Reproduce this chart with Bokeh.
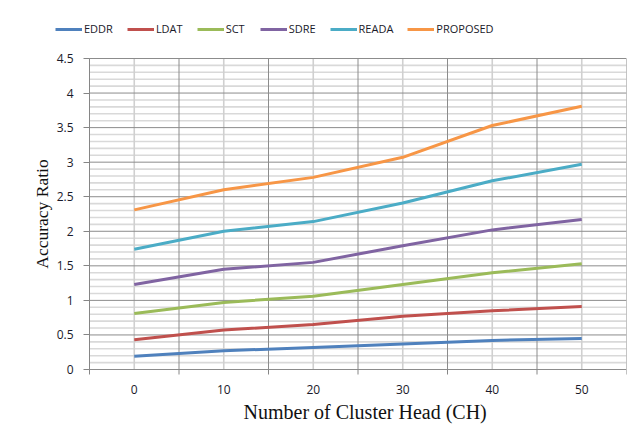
import math
from bokeh.plotting import figure
from bokeh.models import FixedTicker, Legend, LegendItem, Range1d, Label, Title
from bokeh.embed import file_html
from bokeh.resources import INLINE

# ---- data ----
cluster_heads = [0, 10, 20, 30, 40, 50]
x_tick_labels = ["0", "10", "20", "30", "40", "50"]
y_ticks = [0, 0.5, 1, 1.5, 2, 2.5, 3, 3.5, 4, 4.5]
y_tick_labels = ["0", "0.5", "1", "1.5", "2", "2.5", "3", "3.5", "4", "4.5"]

eddr = [0.19, 0.27, 0.32, 0.37, 0.42, 0.45]
ldat = [0.43, 0.57, 0.65, 0.77, 0.85, 0.91]
sct = [0.81, 0.97, 1.06, 1.23, 1.40, 1.53]
sdre = [1.23, 1.45, 1.55, 1.79, 2.02, 2.17]
reada = [1.74, 2.00, 2.14, 2.41, 2.73, 2.97]
proposed = [2.31, 2.60, 2.78, 3.07, 3.53, 3.81]

series_names = ["EDDR", "LDAT", "SCT", "SDRE", "READA", "PROPOSED"]
series_values = [eddr, ldat, sct, sdre, reada, proposed]
series_colors = ["#4F81BD", "#C0504D", "#9BBB59", "#8064A2", "#4BACC6", "#F79646"]

# ---- layout geometry (canvas pixels) ----
W, H = 630, 436
FRAME_L, FRAME_T, FRAME_B = 34, 10, 378   # drawing frame (extended to hold legend, titles, labels)
PLOT_L, PLOT_R, PLOT_T, PLOT_B = 89, 626, 58, 369   # visible plot area
LEGEND_L, LEGEND_BOTTOM = 55, 36
YTITLE_CX = 41
XTITLE_LEFT = 243
TICK_LEN = 5

half = (cluster_heads[1] - cluster_heads[0]) / 2
boundaries = [c - half for c in cluster_heads] + [cluster_heads[-1] + half]
x_lo, x_hi = boundaries[0], boundaries[-1]
y_lo, y_hi = y_ticks[0], y_ticks[-1]
x_per_px = (x_hi - x_lo) / (PLOT_R - PLOT_L)
y_per_px = (y_hi - y_lo) / (PLOT_B - PLOT_T)
x_start = x_lo - (PLOT_L - FRAME_L) * x_per_px
y_end = y_hi + (PLOT_T - FRAME_T) * y_per_px
y_start = y_lo - (FRAME_B - PLOT_B) * y_per_px

p = figure(width=W, height=H, output_backend="svg", toolbar_location=None,
           x_range=Range1d(x_start, x_hi), y_range=Range1d(y_start, y_end),
           min_border_left=FRAME_L, min_border_right=W - PLOT_R,
           min_border_top=FRAME_T, min_border_bottom=H - FRAME_B)
p.outline_line_color = None
p.background_fill_color = "white"
p.border_fill_color = "white"
p.xgrid.visible = False
p.ygrid.visible = False

# ---- grid lines limited to the plot area ----
minor_y = [round(0.1 * i, 1) for i in range(46)]
minor_only = [v for v in minor_y if all(abs(v - t) > 1e-9 for t in y_ticks)]
p.segment(x0=[x_lo] * len(minor_only), y0=minor_only, x1=[x_hi] * len(minor_only), y1=minor_only,
          line_color="#d9d9d9", line_width=1.6, level="underlay")
p.segment(x0=cluster_heads, y0=[y_lo] * len(cluster_heads), x1=cluster_heads, y1=[y_hi] * len(cluster_heads),
          line_color="#d0d0d0", line_width=1.6, level="underlay")
p.segment(x0=[x_lo] * len(y_ticks), y0=y_ticks, x1=[x_hi] * len(y_ticks), y1=y_ticks,
          line_color="#8c8c8c", line_width=1, level="underlay")
p.segment(x0=boundaries, y0=[y_lo] * len(boundaries), x1=boundaries, y1=[y_hi] * len(boundaries),
          line_color="#8c8c8c", line_width=1, level="underlay")
# category boundary tick marks below the x axis line
p.segment(x0=boundaries, y0=[y_lo] * len(boundaries), x1=boundaries,
          y1=[y_lo - TICK_LEN * y_per_px] * len(boundaries),
          line_color="#868686", line_width=1, level="underlay")

# ---- axes ----
p.xaxis.bounds = (x_lo, x_hi)
p.xaxis.ticker = FixedTicker(ticks=cluster_heads, minor_ticks=boundaries)
p.xaxis.major_label_overrides = {c: l for c, l in zip(cluster_heads, x_tick_labels)}
p.xaxis.major_tick_out = 0
p.xaxis.major_tick_in = 0
p.xaxis.minor_tick_out = 5
p.xaxis.minor_tick_in = 0
p.xaxis.minor_tick_line_color = None
p.xaxis.major_tick_line_color = None
p.xaxis.axis_line_color = None
p.xaxis.major_label_standoff = 1

p.yaxis.bounds = (y_lo, y_hi)
p.yaxis.fixed_location = x_lo
p.yaxis.ticker = FixedTicker(ticks=y_ticks, minor_ticks=[])
p.yaxis.major_label_overrides = {t: l for t, l in zip(y_ticks, y_tick_labels)}
p.yaxis.major_tick_out = 6
p.yaxis.major_tick_in = 0
p.yaxis.minor_tick_out = 0
p.yaxis.minor_tick_in = 0
p.yaxis.major_tick_line_color = "#868686"
p.yaxis.axis_line_color = "#868686"
p.yaxis.major_label_standoff = 10

for ax in (p.xaxis, p.yaxis):
    ax.major_label_text_font = "Open Sans"
    ax.major_label_text_font_size = "12px"
    ax.major_label_text_color = "#1a1a2a"

# axis titles
x_title = Title(text="Number of Cluster Head (CH)", align="left",
                offset=XTITLE_LEFT - FRAME_L, standoff=4,
                text_font="Liberation Serif", text_font_size="20px",
                text_font_style="normal", text_color="#111111")
p.add_layout(x_title, "below")

y_title = Label(x=x_lo - (PLOT_L - YTITLE_CX) * x_per_px, y=(y_lo + y_hi) / 2,
                text="Accuracy Ratio", angle=math.pi / 2,
                text_align="center", text_baseline="middle",
                text_font="Liberation Serif", text_font_size="17.5px",
                text_color="#111111")
p.add_layout(y_title)

# ---- series ----
items = []
for name, vals, col in zip(series_names, series_values, series_colors):
    r = p.line(cluster_heads, vals, line_color=col, line_width=3)
    items.append(LegendItem(label=name, renderers=[r]))

legend = Legend(items=items, orientation="horizontal",
                location=(LEGEND_L - FRAME_L, FRAME_B - LEGEND_BOTTOM),
                glyph_width=27, glyph_height=14, label_height=14, label_standoff=2, spacing=14,
                label_text_font="Open Sans", label_text_font_size="11px",
                label_text_color="#1a1a2a", padding=0, margin=0,
                border_line_alpha=0, background_fill_alpha=0)
p.add_layout(legend)

open("out.html", "w").write(file_html(p, INLINE))
